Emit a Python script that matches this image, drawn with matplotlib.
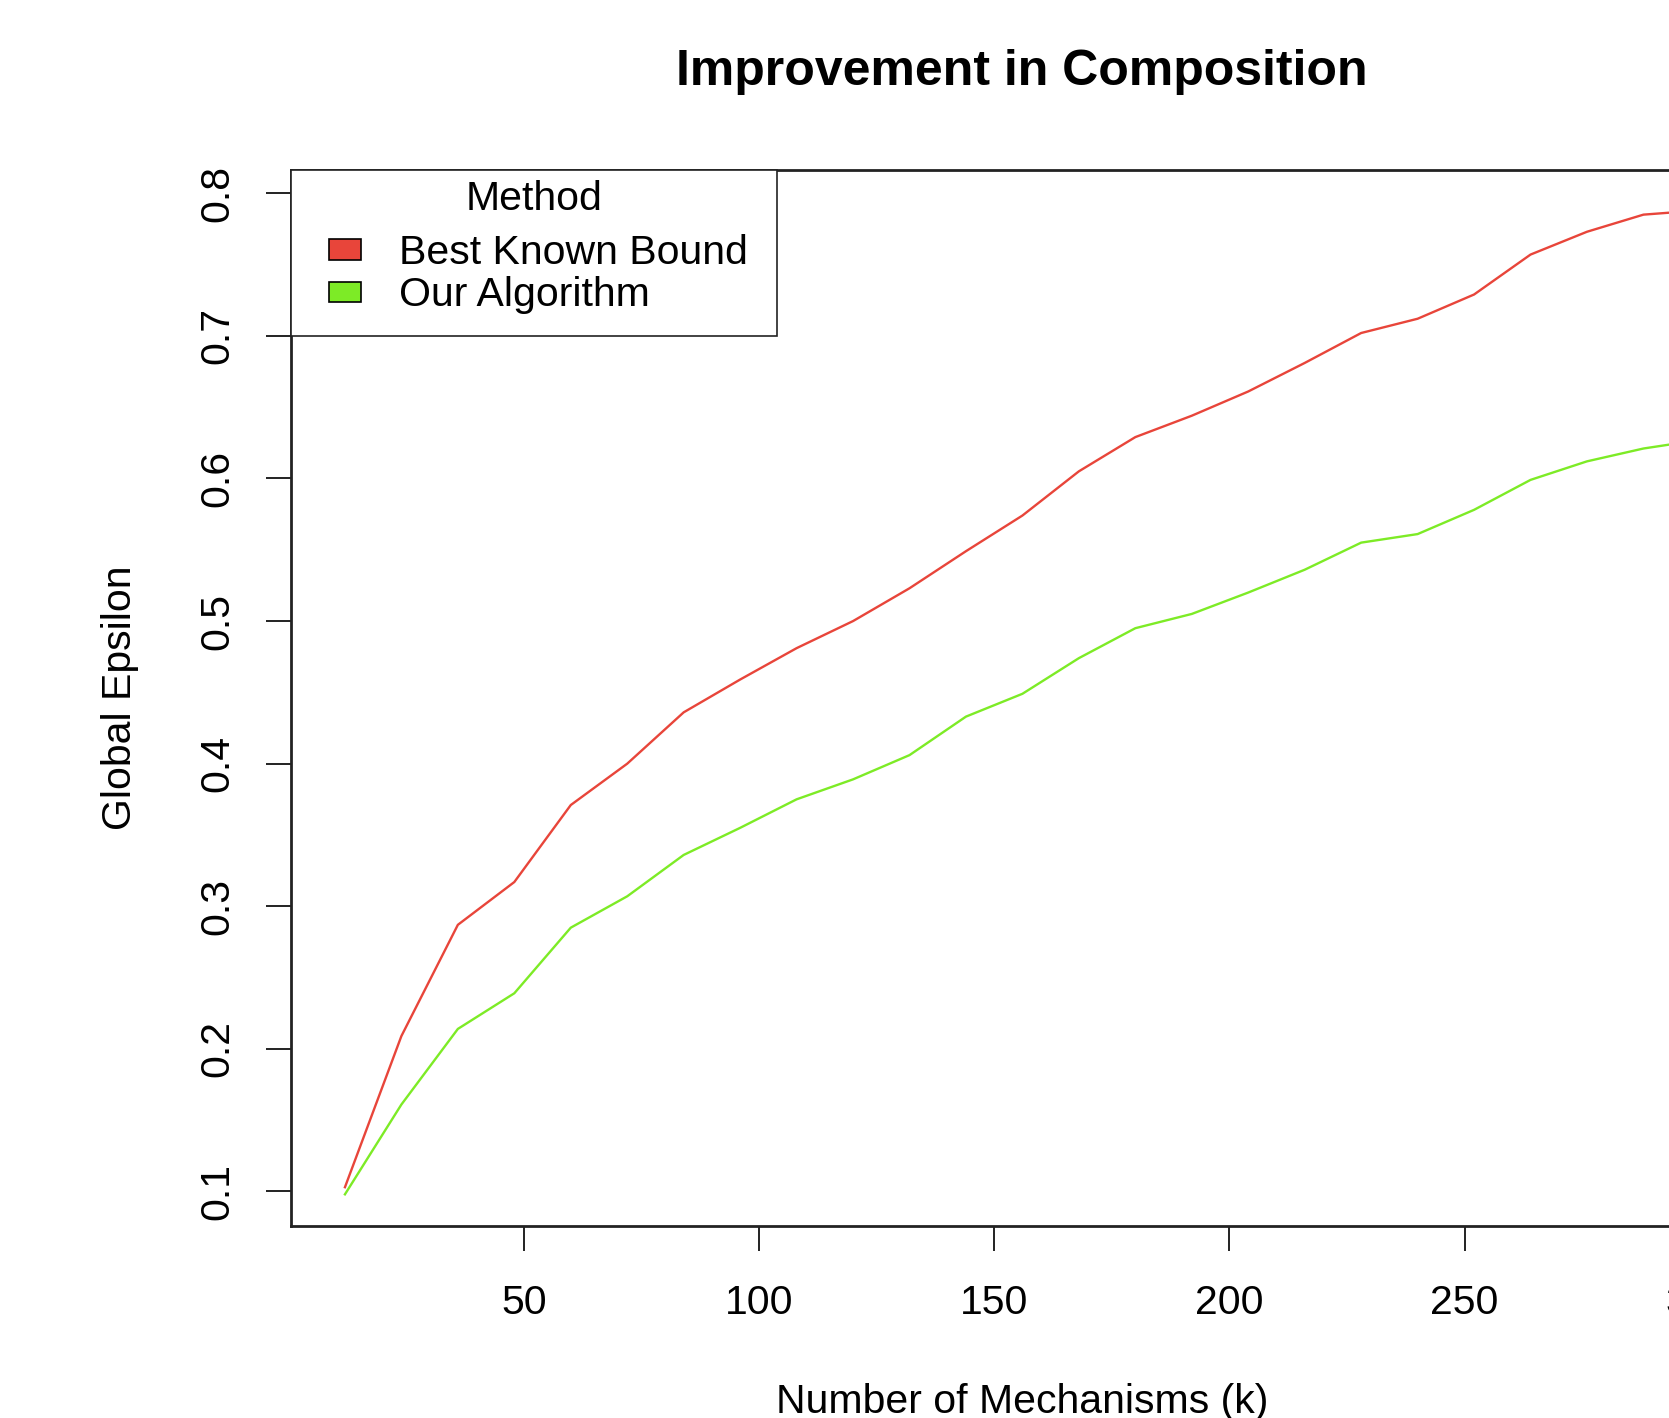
#!/usr/bin/python

# Improvement in Composition : global epsilon vs number of mechanisms (k)

import matplotlib
matplotlib.use("Agg")
import matplotlib.pyplot as plt
import matplotlib.patches as mpatches
from matplotlib.legend_handler import HandlerPatch

# ============= Donnees
k_values = [12, 24, 36, 48, 60, 72, 84, 96, 108, 120, 132, 144, 156,
            168, 180, 192, 204, 216, 228, 240, 252, 264, 276, 288, 300]

best_known_bound = [0.103, 0.209, 0.287, 0.317, 0.371, 0.400, 0.436, 0.459,
                    0.481, 0.500, 0.523, 0.549, 0.574, 0.605, 0.629, 0.644,
                    0.661, 0.681, 0.702, 0.712, 0.729, 0.757, 0.773, 0.785,
                    0.788]

our_algorithm = [0.098, 0.161, 0.214, 0.239, 0.285, 0.307, 0.336, 0.355,
                 0.375, 0.389, 0.406, 0.433, 0.449, 0.474, 0.495, 0.505,
                 0.520, 0.536, 0.555, 0.561, 0.578, 0.599, 0.612, 0.621,
                 0.627]

x_ticks = [50, 100, 150, 200, 250, 300]
y_ticks = [0.1, 0.2, 0.3, 0.4, 0.5, 0.6, 0.7, 0.8]
y_tick_labels = ["0.1", "0.2", "0.3", "0.4", "0.5", "0.6", "0.7", "0.8"]

series_names = ["Best Known Bound", "Our Algorithm"]
series_colors = ["#E8453A", "#7DEB26"]

# ============= Gestion de la taille
my_dpi = 100
image_width = 1669
image_height = 1418

MY_SIZE = 29.5
TITLE_SIZE = 36

plt.rcParams['font.family'] = ['Liberation Sans', 'DejaVu Sans']

fig = plt.figure(figsize=(image_width / my_dpi, image_height / my_dpi), dpi=my_dpi)
# la boite du graphe depasse a droite (image recadree)
ax = fig.add_axes([0.17412, 0.13540, 0.87681, 0.74471])

frame_color = "#222222"

ax.plot(k_values, best_known_bound, color=series_colors[0], linewidth=1.7,
        solid_joinstyle="round")
ax.plot(k_values, our_algorithm, color=series_colors[1], linewidth=1.7,
        solid_joinstyle="round")

ax.set_xlim(0.45, 311.5)
ax.set_ylim(0.0758, 0.8163)

ax.set_xticks(x_ticks, [str(v) for v in x_ticks])
ax.set_yticks(y_ticks, y_tick_labels, rotation=90, va="center")

ax.tick_params(axis="both", direction="out", length=18, width=1.4,
               color=frame_color, labelsize=MY_SIZE)
ax.tick_params(axis="x", pad=24)
ax.tick_params(axis="y", pad=21)

for s in ax.spines.values():
    s.set_linewidth(2.0)
    s.set_color(frame_color)

ax.set_title("Improvement in Composition", fontsize=TITLE_SIZE,
             fontweight="bold", pad=61)

ax.set_xlabel("Number of Mechanisms (k)", fontsize=MY_SIZE, va="baseline")
ax.xaxis.set_label_coords(0.5, -0.1772)
ax.set_ylabel("Global Epsilon", fontsize=MY_SIZE)
ax.yaxis.set_label_coords(-0.1036, 0.5)


# petits carres de legende decales vers la droite de la zone du symbole
def small_box(legend, orig_handle, xdescent, ydescent, width, height, fontsize):
    w = 0.77 * fontsize
    h = 0.5 * fontsize
    return mpatches.Rectangle((width - w - xdescent, (height - h) / 2 - ydescent), w, h)


handles = [mpatches.Patch(facecolor=c, edgecolor="black", linewidth=1.2)
           for c in series_colors]

leg_w = 486 / 1463.4
leg_h = 164 / 1056
leg = ax.legend(handles, series_names, title="Method", fontsize=MY_SIZE,
                title_fontsize=MY_SIZE, loc="upper left",
                bbox_to_anchor=(0, 1 - leg_h, leg_w, leg_h), mode="expand",
                borderaxespad=0, borderpad=0.535, labelspacing=0.1,
                handlelength=1.175, handleheight=0.7, handletextpad=0.93,
                fancybox=False, framealpha=1,
                handler_map={mpatches.Patch: HandlerPatch(patch_func=small_box)})
leg.get_frame().set_edgecolor(frame_color)
leg.get_frame().set_linewidth(1.2)
# titre "Method" remonte un peu (plus d'espace avant les entrees)
leg.get_title().set_y(12)

plt.savefig("out.png", dpi=my_dpi)
